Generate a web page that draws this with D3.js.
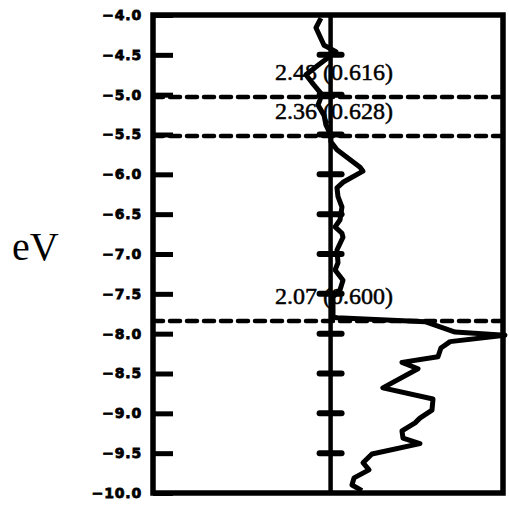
<!DOCTYPE html>
<html>
<head>
<meta charset="utf-8">
<script src="https://cdn.jsdelivr.net/npm/d3@7"></script>
<style>
  body { margin: 0; background: #fff; }
  svg { display: block; }
</style>
</head>
<body>
<script>
// energy (eV) and density values
const energy = [-4.04, -4.16, -4.38, -4.46, -4.63, -4.75, -4.88, -5.00, -5.13, -5.26,
  -5.38, -5.51, -5.59, -5.69, -5.91, -5.96, -6.10, -6.17, -6.28, -6.41,
  -6.57, -6.66, -6.74, -6.79, -6.95, -7.11, -7.20, -7.33, -7.45, -7.54,
  -7.67, -7.79, -7.80, -7.85, -7.98, -8.02, -8.10, -8.18, -8.29, -8.36,
  -8.44, -8.68, -8.82, -8.96, -9.06, -9.12, -9.22, -9.31, -9.38, -9.51,
  -9.62, -9.71, -9.81, -9.90, -9.97];
const dos = [-0.056, -0.085, -0.038, 0.031, -0.073, -0.143, -0.096, -0.050, -0.073, -0.038,
  -0.027, 0.002, 0.002, 0.037, 0.171, 0.188, 0.072, 0.037, 0.043, 0.066,
  0.055, 0.026, 0.066, 0.072, 0.037, 0.043, 0.026, 0.072, 0.055, 0.014,
  0.014, 0.014, 0.037, 0.548, 0.722, 1.011, 0.693, 0.640, 0.623, 0.414,
  0.507, 0.303, 0.594, 0.588, 0.518, 0.490, 0.414, 0.420, 0.518, 0.240,
  0.188, 0.223, 0.136, 0.124, 0.182];

const tickValues = [-4.0, -4.5, -5.0, -5.5, -6.0, -6.5, -7.0, -7.5, -8.0, -8.5, -9.0, -9.5, -10.0];
const levels = [-5.03, -5.52, -7.84];
const levelLabels = ["2.48 (0.616)", "2.36 (0.628)", "2.07 (0.600)"];

const W = 509, H = 506;
const mLeft = 153, mRight = 503, mTop = 15, mBottom = 493;

const svg = d3.select('body').append('svg')
  .attr('width', W)
  .attr('height', H);

const y = d3.scaleLinear().domain([-4, -10]).range([mTop, mBottom]);
const x = d3.scaleLinear().domain([-1.03, 1]).range([mLeft, mRight]);

// level annotations (drawn first so lines sit on top)
svg.selectAll('text.lvl')
  .data(levels)
  .enter().append('text')
  .attr('class', 'lvl')
  .attr('x', 275)
  .attr('y', d => y(d) - 17)
  .attr('font-family', '"Liberation Serif", serif')
  .attr('font-size', 24)
  .attr('fill', '#000')
  .attr('stroke', '#000')
  .attr('stroke-width', 0.5)
  .text((d, i) => levelLabels[i]);

// dashed levels
svg.selectAll('line.lvl')
  .data(levels)
  .enter().append('line')
  .attr('x1', mLeft).attr('x2', mRight)
  .attr('y1', d => y(d)).attr('y2', d => y(d))
  .attr('stroke', '#000')
  .attr('stroke-width', 4.5)
  .attr('stroke-dasharray', '10,7')
  .attr('stroke-linecap', 'round');

// left axis with inward ticks
const yAxis = d3.axisLeft(y)
  .tickValues(tickValues)
  .tickSize(-20)
  .tickPadding(11)
  .tickFormat(d => d.toFixed(1).replace('-', '\u2212'));

const ax = svg.append('g')
  .attr('transform', 'translate(' + mLeft + ',0)')
  .call(yAxis);
ax.select('.domain').remove();
ax.selectAll('.tick line').attr('stroke', '#000').attr('stroke-width', 5);
ax.selectAll('.tick text')
  .attr('font-family', '"DejaVu Sans", sans-serif')
  .attr('font-weight', 'bold')
  .attr('font-size', 14)
  .attr('letter-spacing', 0.8)
  .attr('stroke', '#000')
  .attr('stroke-width', 0.8)
  .attr('fill', '#000');

// centre axis with ticks on both sides
const cx = x(0);
svg.append('line')
  .attr('x1', cx).attr('x2', cx)
  .attr('y1', mTop).attr('y2', mBottom)
  .attr('stroke', '#000')
  .attr('stroke-width', 4.5);

svg.selectAll('line.ctick')
  .data(tickValues.slice(1, -1))
  .enter().append('line')
  .attr('class', 'ctick')
  .attr('x1', cx - 11).attr('x2', cx + 11)
  .attr('y1', d => y(d)).attr('y2', d => y(d))
  .attr('stroke', '#000')
  .attr('stroke-width', 6)
  .attr('stroke-linecap', 'round');

// density curve
const line = d3.line()
  .x((d, i) => x(dos[i]))
  .y(d => y(d));

svg.append('path')
  .datum(energy)
  .attr('d', line)
  .attr('fill', 'none')
  .attr('stroke', '#000')
  .attr('stroke-width', 5)
  .attr('stroke-linejoin', 'round');

// frame
svg.append('rect')
  .attr('x', mLeft).attr('y', mTop)
  .attr('width', mRight - mLeft).attr('height', mBottom - mTop)
  .attr('fill', 'none')
  .attr('stroke', '#000')
  .attr('stroke-width', 5.5);

// unit label
svg.append('text')
  .attr('x', 12)
  .attr('y', 260)
  .attr('font-family', '"Liberation Serif", serif')
  .attr('font-size', 40)
  .attr('fill', '#000')
  .text('eV');
</script>
</body>
</html>
